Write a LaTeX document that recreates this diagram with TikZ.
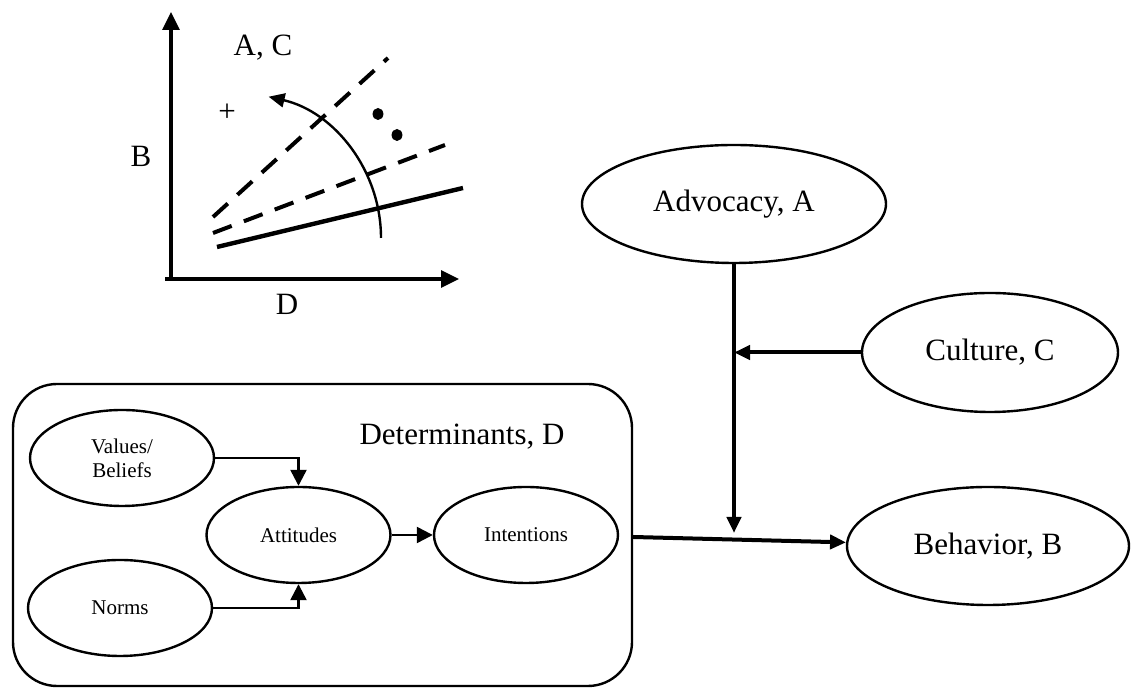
\documentclass[tikz,border=0pt]{standalone}
\usepackage{fontspec}
\setmainfont{Liberation Serif}
\usepackage{tikz}
\usetikzlibrary{shapes.geometric, arrows.meta, calc}

\begin{document}
\begin{tikzpicture}[
    x=0.5pt, y=-0.5pt,
    every node/.style={font=\fontsize{15.5}{18}\selectfont, inner sep=0pt},
    factor/.style={ellipse, draw, line width=1.2pt, align=center},
    subfactor/.style={ellipse, draw, line width=1.2pt, minimum width=92pt, minimum height=48pt, align=center, font=\fontsize{10.5}{12}\selectfont},
    link/.style={-{Triangle[length=8pt, width=8pt]}, line width=1.2pt},
    biglink/.style={-{Triangle[length=8pt, width=7pt]}, line width=2pt},
    axis/.style={-{Triangle[length=9pt, width=8.5pt]}, line width=1.6pt},
    trend/.style={line width=2.2pt},
    shifted/.style={line width=2pt, dash pattern=on 10pt off 6.5pt}
]
\useasboundingbox (0,0) rectangle (1132,688);

% small plot
\draw[axis] (171,279) -- (171,12);
\draw[axis] (165,279) -- (459,279);
\draw[trend] (217,247) -- (463,188);
\draw[shifted] (213,233) -- (445,145);
\draw[shifted] (213,217) -- (388,58);
\draw[-{Triangle[length=8pt, width=7pt]}, line width=1.2pt] (381,238) arc[start angle=0, end angle=-77, radius=145];
\fill (378,114) circle[x radius=2.7pt, y radius=3pt];
\fill (397,135) circle[x radius=2.7pt, y radius=3pt];
\node (ac) at (263,48) {A, C};
\node (bax) at (141,156) {B};
\node (dax) at (287,304) {D};
\node (plus) at (227,113) {+};

% determinants box
\node[draw, line width=1.2pt, rounded corners=22pt, minimum width=309.5pt, minimum height=151pt] (det) at (322.5,535) {};
\node (detlabel) at (462,437) {Determinants, D};
\node[subfactor] (vb) at (122,458) {Values/\\Beliefs};
\node[subfactor] (nm) at (120,608) {Norms};
\node[subfactor] (att) at (298.5,535) {Attitudes};
\node[subfactor] (int) at (526,535) {Intentions};

% outer factors
\node[factor, minimum width=152pt, minimum height=59pt] (adv) at (734,204) {Advocacy, A};
\node[factor, minimum width=128pt, minimum height=59.5pt] (cul) at (990,352.5) {Culture, C};
\node[factor, minimum width=141pt, minimum height=59pt] (beh) at (988,546) {Behavior, B};
\coordinate (meet) at (734,533);

\draw[link] (vb) -| (att);
\draw[link] (nm) -| (att);
\draw[link] (att) -- (int);
\draw[biglink] (adv) -- (meet);
\draw[biglink] (cul) -- (cul -| adv);
\draw[biglink] ([yshift=-1pt]det.east) -- (beh);
\end{tikzpicture}
\end{document}
